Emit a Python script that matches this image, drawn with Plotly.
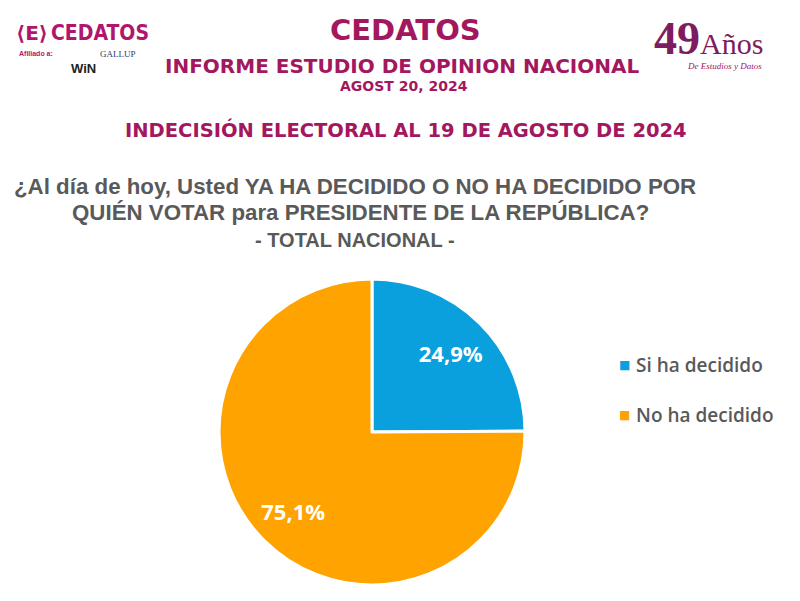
import plotly.graph_objects as go

LABELS = ["Si ha decidido", "No ha decidido"]
VALUES = [24.9, 75.1]
COLORS = ["#0AA0DE", "#FFA300"]

TITLE = "CEDATOS"
SUBTITLE = "INFORME ESTUDIO DE OPINION NACIONAL"
DATE = "AGOST 20, 2024"
HEADING = "INDECISIÓN ELECTORAL AL 19 DE AGOSTO DE 2024"
QUESTION = [
    "¿Al día de hoy, Usted YA HA DECIDIDO O NO HA DECIDIDO POR",
    "QUIÉN VOTAR para PRESIDENTE DE LA REPÚBLICA?",
    "- TOTAL NACIONAL -",
]

BERRY = "#A3175F"
GRAY = "#595959"
# the page body has an 8px margin, so the figure sits at (8, 8)
OFF = 8
W, H = 800 - OFF, 601 - OFF


def px_x(x):
    return (x - OFF) / W


def px_y(y):
    return 1 - (y - OFF) / H


pie_domain = dict(x=[px_x(219), px_x(525)], y=[px_y(585), px_y(279)])

fig = go.Figure()
fig.add_trace(go.Pie(
    labels=LABELS,
    values=VALUES,
    sort=False,
    direction="clockwise",
    rotation=0,
    marker=dict(colors=COLORS, line=dict(color="white", width=3)),
    textinfo="none",
    hoverinfo="label+percent",
    showlegend=False,
    domain=pie_domain,
))
# transparent ring that only carries the percentage labels, pushed outward
fig.add_trace(go.Pie(
    labels=LABELS,
    values=VALUES,
    sort=False,
    direction="clockwise",
    rotation=0,
    hole=0.46,
    marker=dict(colors=["rgba(0,0,0,0)"] * len(VALUES), line=dict(width=0)),
    texttemplate="%{percent:.1%}",
    textposition="inside",
    insidetextorientation="horizontal",
    textfont=dict(family="Open Sans, Noto Sans, sans-serif", size=22, color="white", weight="bold"),
    hoverinfo="skip",
    showlegend=False,
    domain=pie_domain,
))

ann = []


def add_text(text, x, y, size, color, family="DejaVu Sans, sans-serif", weight="bold", style="normal", xanchor="center"):
    ann.append(dict(
        text=text, x=px_x(x), y=px_y(y), xref="paper", yref="paper",
        showarrow=False, xanchor=xanchor, yanchor="middle",
        font=dict(family=family, size=size, color=color, weight=weight, style=style),
    ))


# header
add_text(TITLE, 405, 30, 29, BERRY)
add_text(SUBTITLE, 402, 66, 20, BERRY)
add_text(DATE, 404, 86, 14, BERRY)
add_text(HEADING, 406, 130, 19.5, BERRY)

# question
add_text(QUESTION[0], 355, 186, 22.3, GRAY, family="Liberation Sans, Arial, sans-serif")
add_text(QUESTION[1], 360, 213, 22.3, GRAY, family="Liberation Sans, Arial, sans-serif")
add_text(QUESTION[2], 355, 240, 20, GRAY,
         family="Liberation Sans Narrow, Arial Narrow, Liberation Sans, sans-serif")

# left logo (approximation)
add_text("⟨E⟩", 32, 33, 20, "#B0166C")
add_text("CEDATOS", 100, 33, 21, "#B0166C", family="DejaVu Sans Condensed, DejaVu Sans, sans-serif")
add_text("Afiliado a:", 36, 54, 7, "#B0166C", family="Liberation Sans, sans-serif")
add_text("WiN", 83, 68, 13, "#222222", family="Liberation Sans, sans-serif")
add_text("GALLUP", 118, 54, 9, "#2A3A6A", family="Liberation Serif, serif", weight="normal")

# right logo (approximation)
add_text("49<span style='font-size:30px;font-weight:normal'>Años</span>", 708, 38, 46, "#7E1C62",
         family="Liberation Serif, DejaVu Serif, serif")
add_text("De Estudios y Datos", 724, 66, 9, BERRY, family="Liberation Serif, serif", weight="normal",
         style="italic")

# legend built from data
legend_y = [365, 415]
for lab, col, ly in zip(LABELS, COLORS, legend_y):
    add_text("■", 624, ly, 12, col, weight="normal")
    add_text(lab, 634, ly, 19, GRAY, family="Open Sans, Noto Sans, sans-serif", weight=600, xanchor="left")

fig.update_layout(
    width=W,
    height=H,
    margin=dict(l=0, r=0, t=0, b=0),
    paper_bgcolor="white",
    plot_bgcolor="white",
    separators=",.",
    annotations=ann,
)

fig.write_html("out.html")
